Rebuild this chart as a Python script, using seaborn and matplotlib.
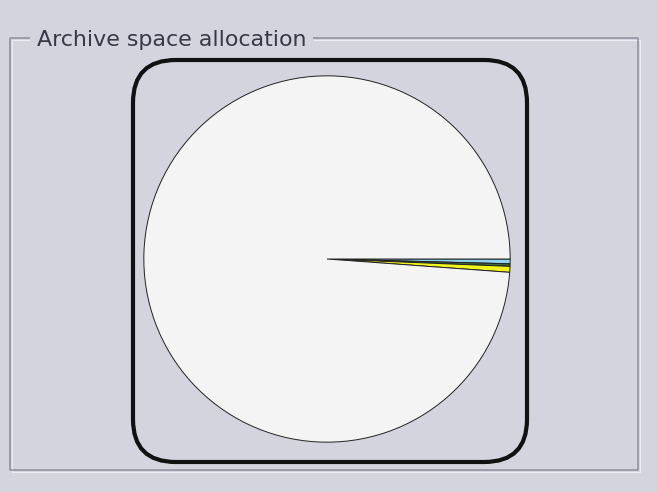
import matplotlib
matplotlib.use("Agg")
import matplotlib.pyplot as plt
from matplotlib.patches import FancyBboxPatch
from matplotlib.lines import Line2D
import seaborn as sns

# Archive space shares (percent of total)
categories = ["Video", "Audio", "Other", "Free"]
shares = [0.42, 0.22, 0.52, 98.84]
colors = ["#8fd3ee", "#3f6b3a", "#f2f21c", "#f4f4f4"]
title = "Archive space allocation"

sns.set_theme(style="white")
plt.rcParams["font.family"] = ["DejaVu Sans"]

W, H = 658, 492
bg = "#d4d4de"
fig = plt.figure(figsize=(W / 100, H / 100), dpi=100, facecolor=bg)

def fx(x):
    return x / W

def fy(y):
    return 1 - y / H

# group box frame (dark line with light highlight)
def frame_line(xs, ys, color, lw=1.0):
    fig.add_artist(Line2D([fx(v) for v in xs], [fy(v) for v in ys],
                         color=color, lw=lw, transform=fig.transFigure,
                         solid_capstyle="butt"))

dark, light = "#8c8c9c", "#ececf2"
frame_line([30, 11.5, 11.5, 639.5, 639.5, 313],
           [39.5, 39.5, 471.5, 471.5, 39.5, 39.5], light, lw=0.8)
frame_line([30, 10, 10, 638, 638, 313],
           [38, 38, 470, 470, 38, 38], dark, lw=1.1)

fig.text(fx(37), fy(40), title, fontsize=15.9, color="#383848",
         ha="left", va="center")

# rounded panel behind the pie
panel = FancyBboxPatch((fx(133), fy(462)), fx(527) - fx(133), fy(60) - fy(462),
                       boxstyle="round,pad=0,rounding_size=0.065",
                       transform=fig.transFigure, facecolor="none",
                       edgecolor="#111111", lw=3.0, mutation_aspect=W / H)
fig.add_artist(panel)

cx, cy, r = 327, 259, 185
ax = fig.add_axes([fx(cx - r), fy(cy + r), 2 * r / W, 2 * r / H])
ax.set_facecolor("none")
ax.pie(shares, colors=colors, startangle=0, counterclock=False, radius=1,
       wedgeprops=dict(edgecolor="#222222", linewidth=0.7))
ax.set_xlim(-1.01, 1.01)
ax.set_ylim(-1.01, 1.01)
ax.set_aspect("equal")
ax.axis("off")

fig.savefig("out.png", dpi=100, facecolor=bg)
